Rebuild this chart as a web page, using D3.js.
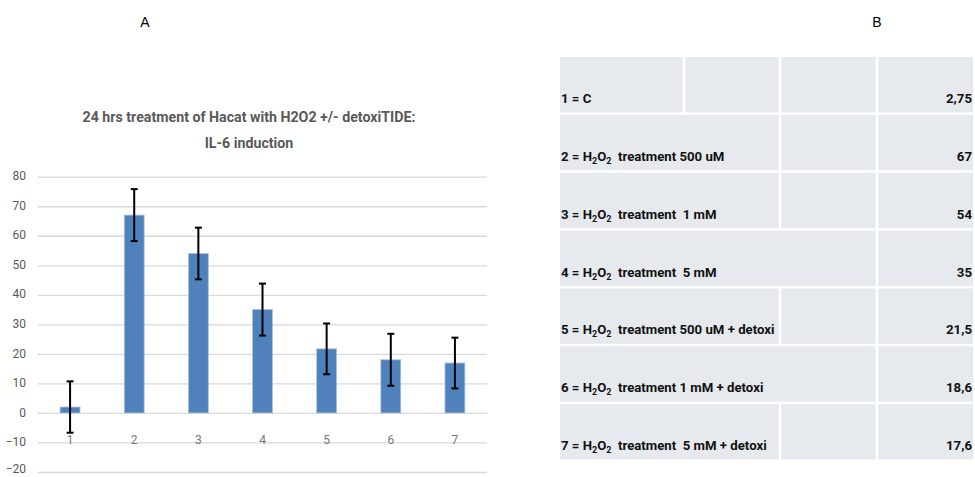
<!DOCTYPE html>
<html>
<head>
<meta charset="utf-8">
<script src="https://cdn.jsdelivr.net/npm/d3@7"></script>
<style>
  body { margin: 0; background: #fff; }
  svg { display: block; }
  text { white-space: pre; }
</style>
</head>
<body>
<svg id="chart"></svg>
<script>
// chart values
const groups = ["1", "2", "3", "4", "5", "6", "7"];
const means = [2, 67, 54, 35, 21.7, 18, 16.9];
const errors = [8.7, 8.8, 8.75, 8.8, 8.6, 8.8, 8.6];
const yTicks = [80, 70, 60, 50, 40, 30, 20, 10, 0, -10, -20];

// table B
const rowLabels = [
    "1 = C",
    "2 = H_2O_2  treatment 500 uM",
    "3 = H_2O_2  treatment  1 mM",
    "4 = H_2O_2  treatment  5 mM",
    "5 = H_2O_2  treatment 500 uM + detoxi",
    "6 = H_2O_2  treatment 1 mM + detoxi",
    "7 = H_2O_2  treatment  5 mM + detoxi"
];
const rowValues = ["2,75", "67", "54", "35", "21,5", "18,6", "17,6"];
// how many of the 4 columns each cell covers
const rowSpans = [[1, 1, 1, 1], [2, 1, 1], [2, 1, 1], [3, 1], [2, 1, 1], [3, 1], [2, 1, 1]];

const width = 975, height = 477;
const svg = d3.select("#chart").attr("width", width).attr("height", height);

const font = "Roboto, 'Liberation Sans', sans-serif";

// panel letters
svg.append("text").attr("x", 145).attr("y", 27).attr("text-anchor", "middle")
    .attr("font-family", "'Liberation Sans', sans-serif").attr("font-size", 14).text("A");
svg.append("text").attr("x", 877).attr("y", 27).attr("text-anchor", "middle")
    .attr("font-family", "'Liberation Sans', sans-serif").attr("font-size", 14).text("B");

// ---- chart A ----
const plot = { left: 38, right: 487 };
const x = d3.scaleBand().domain(groups).range([plot.left, plot.right]).paddingInner(0.69).paddingOuter(0.345);
const y = d3.scaleLinear().domain([-20, 80]).range([472, 176.7]);

const title = svg.append("g")
    .attr("font-family", font).attr("font-weight", "bold").attr("font-size", 14.2)
    .attr("fill", "#595959").attr("text-anchor", "middle");
title.append("text").attr("x", 249).attr("y", 122).text("24 hrs treatment of Hacat with H2O2 +/- detoxiTIDE:");
title.append("text").attr("x", 249).attr("y", 148).text("IL-6 induction");

const yAxis = svg.append("g")
    .attr("transform", `translate(${plot.left},0)`)
    .call(d3.axisLeft(y).tickValues(yTicks).tickSize(-(plot.right - plot.left)).tickPadding(12));
yAxis.select(".domain").remove();
yAxis.selectAll(".tick line").attr("stroke", "#d9d9d9").attr("stroke-width", 1.3);
yAxis.selectAll(".tick text").attr("font-family", font).attr("font-size", 12).attr("fill", "#595959")
    .attr("dy", d => d === -20 ? "0.02em" : "0.26em");  // keep the bottom label inside the page

svg.append("g").selectAll("rect")
    .data(groups)
    .join("rect")
    .attr("x", d => x(d))
    .attr("width", x.bandwidth())
    .attr("y", (d, i) => y(Math.max(0, means[i])))
    .attr("height", (d, i) => Math.abs(y(means[i]) - y(0)))
    .attr("fill", "#4f81bd")
    .attr("stroke", "#a9c0de")
    .attr("stroke-width", 0.8);

// category labels sit under the zero line
svg.append("g").selectAll("text")
    .data(groups)
    .join("text")
    .attr("x", d => x(d) + x.bandwidth() / 2)
    .attr("y", y(-10) + 2)
    .attr("text-anchor", "middle")
    .attr("font-family", font).attr("font-size", 12).attr("fill", "#767676")
    .text(d => d);

const err = svg.append("g").attr("stroke", "#000").attr("stroke-width", 2);
groups.forEach((g, i) => {
    const cx = x(g) + x.bandwidth() / 2;
    const hi = y(means[i] + errors[i]), lo = y(means[i] - errors[i]);
    err.append("line").attr("x1", cx).attr("x2", cx).attr("y1", hi).attr("y2", lo);
    err.append("line").attr("x1", cx - 3.5).attr("x2", cx + 3.5).attr("y1", hi).attr("y2", hi);
    err.append("line").attr("x1", cx - 3.5).attr("x2", cx + 3.5).attr("y1", lo).attr("y2", lo);
});

// ---- table B ----
const colEdges = [560, 684, 780, 877, 973];
const gap = 2.5;
const rowY = d3.scaleBand().domain(d3.range(rowLabels.length)).range([57, 459.5 + gap]).paddingInner(0);
const table = svg.append("g");

rowLabels.forEach((label, r) => {
    const top = rowY(r), h = rowY.bandwidth() - gap;
    let c = 0;
    rowSpans[r].forEach(span => {
        const x0 = colEdges[c] + (c > 0 ? gap / 2 : 0);
        const x1 = colEdges[c + span] - (c + span < 4 ? gap / 2 : 0);
        table.append("rect").attr("x", x0).attr("y", top).attr("width", x1 - x0).attr("height", h)
            .attr("fill", "#e6e9ed");
        c += span;
    });

    const t = table.append("text")
        .attr("x", 561).attr("y", top + 46)
        .attr("font-family", font).attr("font-weight", "bold").attr("font-size", 13.2)
        .attr("fill", "#111");
    // "_x" marks a subscript character
    let shift = 0;
    label.split(/(_\d)/).forEach(part => {
        if (part.startsWith("_")) {
            t.append("tspan").attr("font-size", 9).attr("dy", 3 - shift).text(part.slice(1));
            shift = 3;
        } else if (part) {
            t.append("tspan").attr("dy", -shift).text(part);
            shift = 0;
        }
    });

    table.append("text")
        .attr("x", 972).attr("y", top + 46)
        .attr("text-anchor", "end")
        .attr("font-family", font).attr("font-weight", "bold").attr("font-size", 13.2)
        .attr("fill", "#111")
        .text(rowValues[r]);
});
</script>
</body>
</html>
